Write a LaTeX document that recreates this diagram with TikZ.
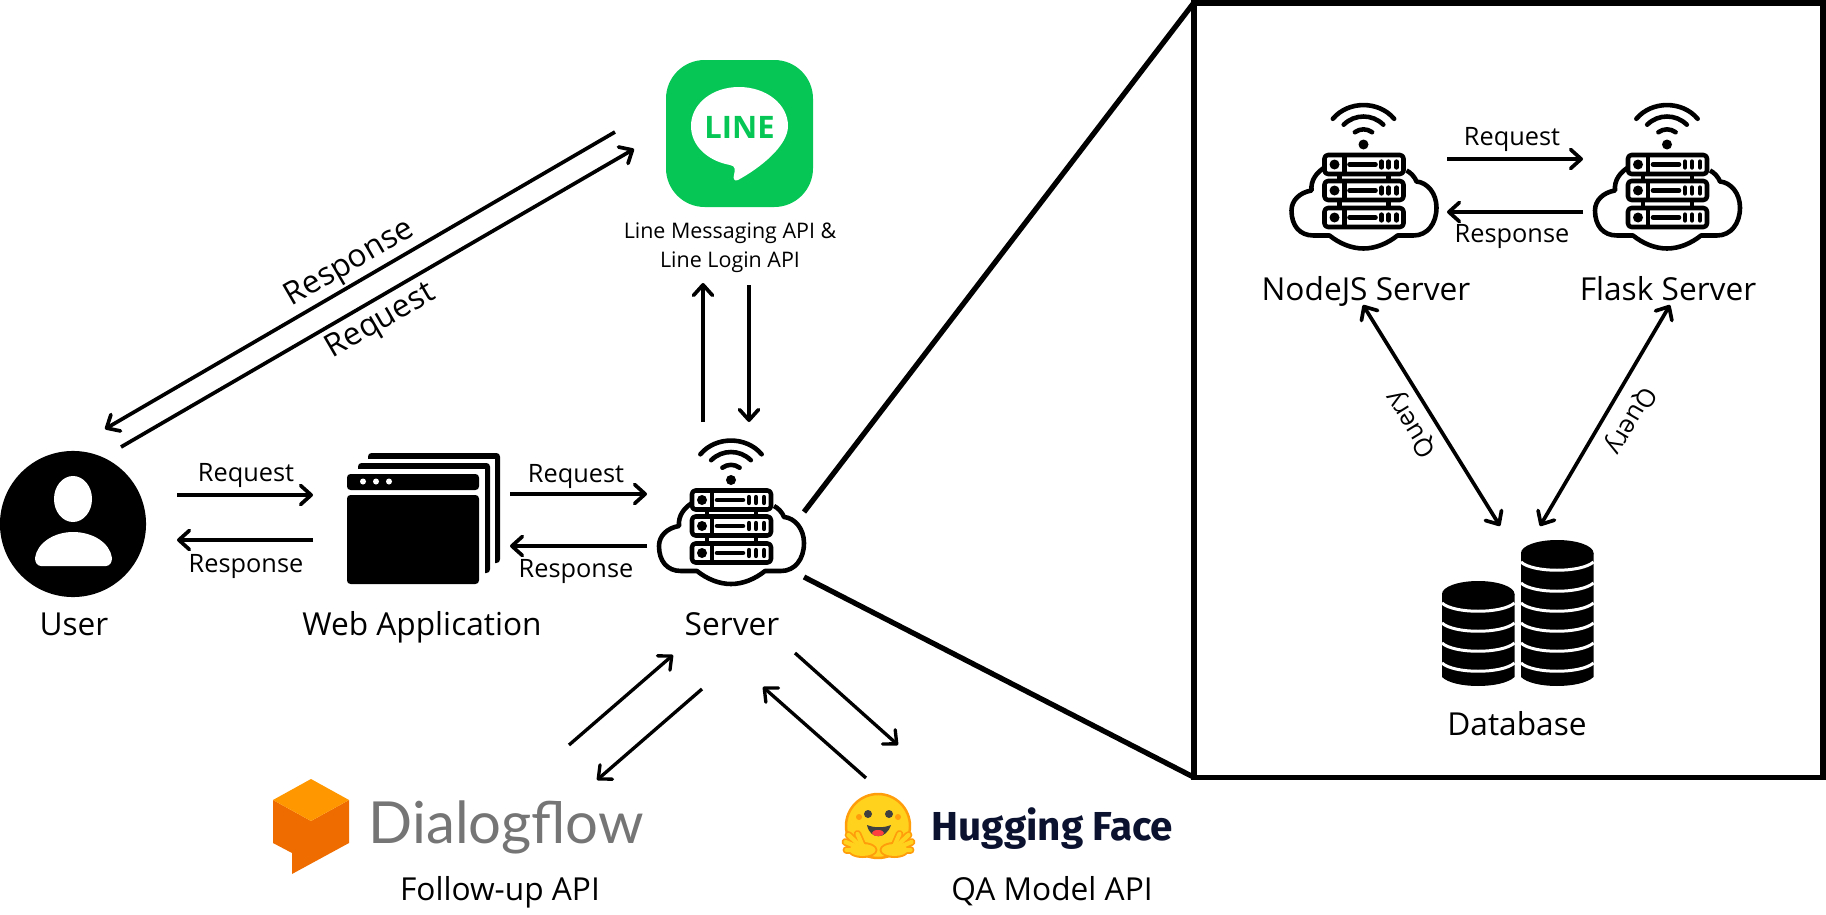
\documentclass[tikz,border=0pt]{standalone}
\usepackage{fontspec}
\setmainfont{Open Sans}
\newfontfamily\dialogfont{Lato}
\newfontfamily\hffont{Fira Sans}
\usepackage{xcolor}
\definecolor{linegreen}{HTML}{06C755}
\definecolor{dflight}{HTML}{FF9800}
\definecolor{dfdark}{HTML}{EF6C00}
\definecolor{dfgray}{HTML}{757575}
\definecolor{hfyellow}{HTML}{FFD21E}
\definecolor{hforange}{HTML}{FF9D0B}
\definecolor{hfnavy}{HTML}{0B1230}
\usetikzlibrary{arrows.meta,calc}

\begin{document}
\begin{tikzpicture}[x=0.01cm,y=-0.01cm,
    >={Straight Barb[length=3pt,width=5.4pt,round]},
    arrowline/.style={->,line width=1.05pt},
    thinarrow/.style={->,line width=0.95pt},
    zoomline/.style={line width=1.5pt},
    bigLabel/.style={font=\fontsize{9}{11}\selectfont,inner sep=0pt},
    smallLabel/.style={font=\fontsize{7.2}{9}\selectfont,inner sep=0pt},
    apiLabel/.style={font=\fontsize{6.1}{8.2}\selectfont,inner sep=0pt},
    iconBox/.style={inner sep=0pt,outer sep=0pt},
    serverline/.style={line width=1.3pt,line join=round}]
    \useasboundingbox (0,0) rectangle (1826,915);

    % Free ends of the connectors
    \foreach \name/\x/\y in {userReqA/177/495, webReqA/313/495, webResA/313/540, userResA/177/540,
        webReqB/510/494, srvReqB/647/494, srvResB/647/546, webResB/510/546,
        userResC/615/132, userEndC/105/429, userReqD/121/447, lineEndD/634/149,
        srvUp/703/422, lineUp/703/283, lineDown/749/285, srvDown/749/422,
        dfUpA/569/745, srvDfA/673/655, srvDfB/702/689, dfDownB/597/780,
        hfUpA/866/778, srvHfA/763/687, srvHfB/795/653, hfDownB/898/745,
        nodeReq/1447/159, flaskReq/1583/159, flaskRes/1583/212, nodeRes/1447/212,
        nodeQuery/1363/305, dbQueryA/1500/526, flaskQuery/1670/305, dbQueryB/1540/526,
        zoomTop/804/512, zoomBottom/804/577} {
        \coordinate (\name) at (\x,\y);
    }

    % User
    \node[circle,fill=black,minimum size=1.46cm,iconBox] (user) at (73,524) {};
    \fill[white] (73,499) ellipse (19 and 23);
    \fill[white] (41,566) .. controls (37,566) and (35,562) .. (35,558) .. controls (37,543) and (54,532) .. (73,532)
        .. controls (93,532) and (110,543) .. (112,558) .. controls (112,562) and (110,566) .. (106,566) -- cycle;

    % Web application windows
    \foreach \dx/\dy in {21/-21,11/-11} {
        \fill[rounded corners=1pt] (347+\dx,474+\dy) rectangle (479+\dx,584+\dy);
        \fill[white] (340+\dx,480+\dy) rectangle (474+\dx,590+\dy);
    }
    \fill[rounded corners=1pt] (347,474) -- (479,474) -- (479,490) -- (347,490) -- cycle;
    \fill[rounded corners=1pt] (347,495) -- (479,495) -- (479,584) -- (347,584) -- cycle;
    \foreach \x in {363,376,389} {
        \fill[white] (\x,481.5) circle[radius=3];
    }
    \node[iconBox,minimum width=1.53cm,minimum height=1.31cm] (webapp) at (423,518) {};

    % Server icons
    \foreach \name/\x/\y in {server/731/533,nodejs/1363.5/197.5,flask/1667/197.5} {
        \begin{scope}[shift={(\x,\y)}]
            \draw[serverline,fill=white] (-39,-30) .. controls (-47,-25) and (-53,-17) .. (-52,-7)
                .. controls (-64,-5) and (-72,3) .. (-72,13) .. controls (-72,28) and (-64,38) .. (-50,38) -- (-34,38)
                .. controls (-24,46) and (-12,51) .. (0,51) .. controls (12,51) and (24,46) .. (34,38) -- (50,38)
                .. controls (64,38) and (73,26) .. (73,10) .. controls (73,-4) and (64,-15) .. (53,-16)
                .. controls (51,-21) and (47,-25) .. (43,-27);
            \draw[serverline] (-24,-33) -- (-24,20) (25,-33) -- (25,20);
            \foreach \ry in {-33,-7,20} {
                \draw[serverline,fill=white,rounded corners=1pt] (-39,\ry-9.5) rectangle (40,\ry+9.5);
                \draw[serverline] (-19,\ry-9.5) -- (-19,\ry+9.5);
                \fill (-29,\ry) circle[radius=5];
                \draw[serverline,line cap=round] (-14,\ry) -- (12,\ry);
                \foreach \px in {18,25,33} {
                    \draw[line width=1.2pt,line cap=round] (\px,\ry-3) -- (\px,\ry+3);
                }
            }
            \fill (0,-53) circle[radius=5];
            \foreach \r/\a in {15/35,28/45,40/50} {
                \draw[serverline,line cap=round] ({-\r*sin(\a)},{-53-\r*cos(\a)}) to[bend left=\a] ({\r*sin(\a)},{-53-\r*cos(\a)});
            }
            \node[iconBox,minimum width=1.45cm,minimum height=1.45cm] (\name) at (0,-20) {};
        \end{scope}
    }

    % Line logo
    \fill[linegreen,rounded corners=11pt] (666,60) rectangle (813,207);
    \fill[white] (739,87) .. controls (766,87) and (788,104) .. (788,126) .. controls (788,146) and (760,168) .. (738,180)
        .. controls (734,182) and (733,178) .. (734,175) .. controls (735,170) and (736,166) .. (730,165)
        .. controls (708,161) and (691,146) .. (691,126) .. controls (691,104) and (712,87) .. (739,87) -- cycle;
    \node[font=\fontsize{8.8}{10}\selectfont\bfseries,text=linegreen,inner sep=0pt] (lineLogo) at (739.5,127.5) {LINE};

    % Dialogflow logo
    \fill[dfdark] (273,800) -- (311,821) -- (349,800) -- (349,843) -- (292,874) -- (292,853) -- (273,843) -- cycle;
    \fill[dflight] (311,779) -- (349,800) -- (311,821) -- (273,800) -- cycle;
    \node[font=\fontsize{16.5}{18}\selectfont\dialogfont,text=dfgray,inner sep=0pt,anchor=base west] (dialogflow) at (368,843) {Dialogflow};

    % Hugging Face logo
    \draw[hforange,fill=hfyellow,line width=0.7pt] (878,826) circle[radius=32];
    \fill[black!75] (868,814) circle[radius=4] (889,814) circle[radius=4];
    \fill[hforange] (859,817) circle[radius=3] (898,817) circle[radius=3];
    \fill[black!75] (867,825) .. controls (870,840) and (886,840) .. (891,825) .. controls (884,828) and (874,828) .. (867,825) -- cycle;
    \fill[red!75] (878,833) ellipse (6 and 3);
    \foreach \s in {1,-1} {
        \begin{scope}[shift={(878.5,0)},xscale=\s]
            \foreach \tx/\ty in {-21/834,-30/835,-33/842,-32/850} {
                \draw[hforange,line width=2.2pt,line cap=round] (-14,850) -- (\tx,\ty);
            }
            \fill[hforange] (-16,850) ellipse (15 and 8);
            \foreach \tx/\ty in {-21/834,-30/835,-33/842,-32/850} {
                \draw[hfyellow,line width=1.2pt,line cap=round] (-14,850) -- (\tx,\ty);
            }
            \fill[hfyellow] (-16,850) ellipse (13 and 6);
        \end{scope}
    }
    \node[font=\fontsize{11.5}{13}\selectfont\hffont\bfseries,text=hfnavy,inner sep=0pt,anchor=base west] (huggingface) at (931,840) {Hugging Face};

    % Detail box and database
    \node[draw,line width=1.55pt,minimum width=6.29cm,minimum height=7.74cm,iconBox] (detailbox) at (1508.5,390) {};
    \foreach \x/\ytop/\ylist in {1442/594/{603,623,643,663},1521/553/{562,583,603,623,643,663}} {
        \fill (\x,\ytop) -- (\x,677) .. controls (\x+12,689) and (\x+60,689) .. (\x+72.5,677) -- (\x+72.5,\ytop) -- cycle;
        \fill (\x+36.25,\ytop) ellipse (36.25 and 13);
        \foreach \y in \ylist {
            \draw[white,line width=0.85pt] (\x,\y) .. controls (\x+12,\y+11) and (\x+60,\y+11) .. (\x+72.5,\y);
        }
    }
    \node[iconBox,minimum width=1.51cm,minimum height=1.36cm] (database) at (1517,620) {};

    % Labels
    \foreach \name/\x/\y/\txt in {userLabel/74/635/User, webLabel/422/635/Web Application, serverLabel/732/635/Server,
        nodeLabel/1366/300/NodeJS Server, flaskLabel/1668/300/Flask Server, dbLabel/1517/735/Database,
        followLabel/500/900/Follow-up API, qaLabel/1052/900/QA Model API} {
        \node[bigLabel,anchor=base] (\name) at (\x,\y) {\txt};
    }
    \foreach \name/\x/\y/\txt in {reqA/246/481/Request, resA/246/572/Response, reqB/576/482/Request, resB/576/577/Response,
        reqC/1512/146/Request, resC/1512/242/Response} {
        \node[smallLabel,anchor=base] (\name) at (\x,\y) {\txt};
    }
    \node[apiLabel,align=center] (lineLabel) at (730,248) {Line Messaging API \&\\Line Login API};
    \node[bigLabel,rotate=30.2] (resD) at (350,264) {Response};
    \node[bigLabel,rotate=30.2] (reqD) at (381,322) {Request};
    \node[smallLabel,rotate=121.8] (queryA) at (1412,424) {Query};
    \node[smallLabel,rotate=239.5] (queryB) at (1630,420) {Query};

    % Connectors
    \draw[arrowline] (userReqA) -- (webReqA);
    \draw[arrowline] (webResA) -- (userResA);
    \draw[arrowline] (webReqB) -- (srvReqB);
    \draw[arrowline] (srvResB) -- (webResB);
    \draw[arrowline] (userResC) -- (userEndC);
    \draw[arrowline] (userReqD) -- (lineEndD);
    \draw[arrowline] (srvUp) -- (lineUp);
    \draw[arrowline] (lineDown) -- (srvDown);
    \draw[thinarrow] (dfUpA) -- (srvDfA);
    \draw[thinarrow] (srvDfB) -- (dfDownB);
    \draw[thinarrow] (hfUpA) -- (srvHfA);
    \draw[thinarrow] (srvHfB) -- (hfDownB);
    \draw[arrowline] (nodeReq) -- (flaskReq);
    \draw[arrowline] (flaskRes) -- (nodeRes);
    \draw[arrowline,<->] (nodeQuery) -- (dbQueryA);
    \draw[arrowline,<->] (flaskQuery) -- (dbQueryB);
    \draw[zoomline] (zoomTop) -- (detailbox.north west);
    \draw[zoomline] (zoomBottom) -- (detailbox.south west);
\end{tikzpicture}
\end{document}
